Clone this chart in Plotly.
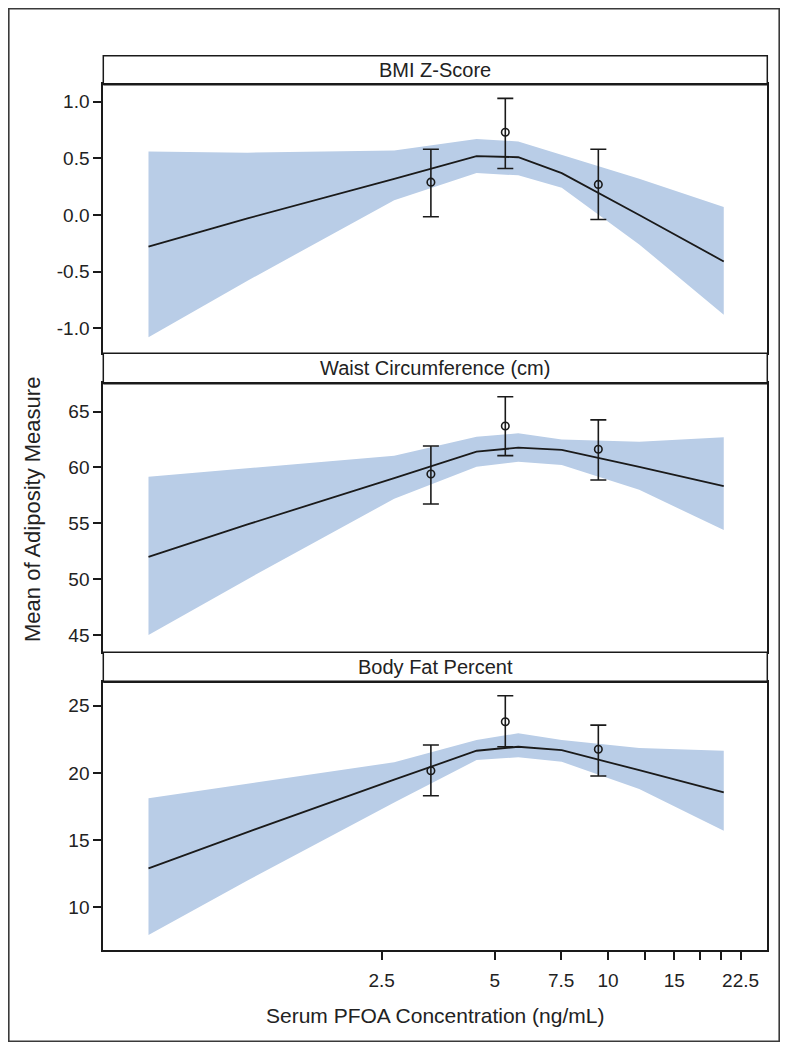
import math
import plotly.graph_objects as go

# page body has an 8px margin: figure is 772x1034 and all pixel geometry is shifted by 8
OFF = 8
W, H = 788 - 2 * OFF, 1050 - 2 * OFF

# ---- data ----
knot_x = [0.6, 1.1, 2.7, 4.47, 5.77, 7.53, 12.1, 20.3]

bmi_fit = [-0.28, -0.03, 0.32, 0.52, 0.51, 0.37, 0.00, -0.41]
bmi_upper = [0.56, 0.55, 0.57, 0.67, 0.65, 0.53, 0.32, 0.07]
bmi_lower = [-1.08, -0.58, 0.13, 0.37, 0.35, 0.24, -0.26, -0.88]

waist_fit = [52.0, 54.9, 59.05, 61.42, 61.77, 61.57, 60.05, 58.34]
waist_upper = [59.18, 59.95, 61.05, 62.76, 63.06, 62.5, 62.3, 62.7]
waist_lower = [45.0, 50.0, 57.2, 60.07, 60.52, 60.22, 58.0, 54.4]

fat_fit = [12.9, 15.6, 19.5, 21.65, 21.95, 21.7, 20.2, 18.56]
fat_upper = [18.11, 19.2, 20.8, 22.45, 22.95, 22.45, 21.85, 21.65]
fat_lower = [7.94, 12.0, 17.8, 20.96, 21.16, 20.83, 18.8, 15.7]

group_x = [3.38, 5.33, 9.42]
bmi_mean = [0.29, 0.73, 0.27]
bmi_hi = [0.58, 1.03, 0.58]
bmi_lo = [-0.015, 0.41, -0.04]
waist_mean = [59.42, 63.72, 61.63]
waist_hi = [61.93, 66.34, 64.26]
waist_lo = [56.73, 61.06, 58.88]
fat_mean = [20.16, 23.81, 21.76]
fat_hi = [22.08, 25.74, 23.56]
fat_lo = [18.30, 21.95, 19.77]

panel_titles = ["BMI Z-Score", "Waist Circumference (cm)", "Body Fat Percent"]
x_tickvals = [2.5, 5, 7.5, 10, 12.5, 15, 17.5, 20, 22.5]
x_ticktext = ["2.5", "5", "7.5", "10", "", "15", "", "", "22.5"]
y_ticks = [
    ([-1.0, -0.5, 0.0, 0.5, 1.0], ["-1.0", "-0.5", "0.0", "0.5", "1.0"]),
    ([45, 50, 55, 60, 65], ["45", "50", "55", "60", "65"]),
    ([10, 15, 20, 25], ["10", "15", "20", "25"]),
]
y_ranges = [[-1.221, 1.154], [43.5, 67.54], [6.82, 26.79]]

panels = [
    (bmi_fit, bmi_upper, bmi_lower, bmi_mean, bmi_hi, bmi_lo),
    (waist_fit, waist_upper, waist_lower, waist_mean, waist_hi, waist_lo),
    (fat_fit, fat_upper, fat_lower, fat_mean, fat_hi, fat_lo),
]

# ---- layout geometry (page pixels) ----
PX_L, PX_R = 103.3, 767.3
headers = [(55.7, 84.3), (353.3, 383.3), (652.3, 681.7)]
plots = [(84.3, 353.3), (383.3, 651.7), (681.7, 950.0)]

def fx(px):
    return (px - OFF) / W

def fy(py):
    return 1 - (py - OFF) / H

BAND = "#B9CDE7"
FONT = "Liberation Sans, Arial, sans-serif"
TXT = "#222222"
INK = "#1a1a1a"

fig = go.Figure()
shapes = []
annotations = []
layout = {}

xr = [math.log10(0.455), math.log10(26.5)]

for i, (fit, up, lo, mean, hi, lw) in enumerate(panels):
    n = i + 1
    xa = "x" if n == 1 else f"x{n}"
    ya = "y" if n == 1 else f"y{n}"
    fig.add_trace(go.Scatter(x=knot_x, y=lo, mode="lines", line=dict(width=0, color=BAND),
                             xaxis=xa, yaxis=ya, showlegend=False, hoverinfo="skip"))
    fig.add_trace(go.Scatter(x=knot_x, y=up, mode="lines", line=dict(width=0, color=BAND),
                             fill="tonexty", fillcolor=BAND,
                             xaxis=xa, yaxis=ya, showlegend=False, hoverinfo="skip"))
    fig.add_trace(go.Scatter(x=knot_x, y=fit, mode="lines", line=dict(width=1.8, color=INK),
                             xaxis=xa, yaxis=ya, showlegend=False))
    fig.add_trace(go.Scatter(
        x=group_x, y=mean, mode="markers",
        marker=dict(symbol="circle-open", size=7.5, color=INK, line=dict(width=1.6)),
        error_y=dict(type="data", symmetric=False,
                     array=[h - m for h, m in zip(hi, mean)],
                     arrayminus=[m - l for m, l in zip(mean, lw)],
                     color=INK, thickness=1.6, width=8),
        xaxis=xa, yaxis=ya, showlegend=False))

    top, bot = plots[i]
    xkey = "xaxis" if n == 1 else f"xaxis{n}"
    ykey = "yaxis" if n == 1 else f"yaxis{n}"
    last = (n == 3)
    layout[xkey] = dict(
        type="log", range=xr, domain=[fx(PX_L), fx(PX_R)], anchor=ya,
        showline=True, linewidth=2, linecolor=INK, mirror=True,
        showgrid=False, zeroline=False,
        tickmode="array", tickvals=x_tickvals if last else [],
        ticktext=x_ticktext if last else [],
        ticks="outside" if last else "", ticklen=8, tickwidth=1.5, tickcolor=INK,
        showticklabels=last, ticklabelstandoff=4,
        tickfont=dict(family=FONT, size=19, color=TXT),
        automargin=False,
    )
    tv, tt = y_ticks[i]
    layout[ykey] = dict(
        range=y_ranges[i], domain=[fy(bot), fy(top)], anchor=xa,
        showline=True, linewidth=2, linecolor=INK, mirror=True,
        showgrid=False, zeroline=False,
        tickmode="array", tickvals=tv, ticktext=tt,
        ticks="outside", ticklen=8, tickwidth=1.5, tickcolor=INK,
        tickfont=dict(family=FONT, size=19, color=TXT),
        automargin=False,
    )

    h0, h1 = headers[i]
    shapes.append(dict(type="rect", xref="paper", yref="paper",
                       x0=fx(PX_L), x1=fx(PX_R), y0=fy(h1), y1=fy(h0),
                       line=dict(color=INK, width=1.5), fillcolor="white", layer="above"))
    shapes.append(dict(type="line", xref="paper", yref="paper",
                       x0=fx(PX_L), x1=fx(PX_R), y0=fy(h1), y1=fy(h1),
                       line=dict(color=INK, width=2.5), layer="above"))
    annotations.append(dict(text=panel_titles[i], xref="paper", yref="paper",
                            x=fx((PX_L + PX_R) / 2), y=fy((h0 + h1) / 2),
                            xanchor="center", yanchor="middle", showarrow=False,
                            font=dict(family=FONT, size=20, color=TXT)))

# outer frame (as close to the page edge as the figure allows)
shapes.append(dict(type="rect", xref="paper", yref="paper",
                   x0=0.8 / W, x1=1 - 0.8 / W, y0=0.8 / H, y1=1 - 0.8 / H,
                   line=dict(color="#3a3a3a", width=1.6), layer="above"))

annotations.append(dict(text="Serum PFOA Concentration (ng/mL)", xref="paper", yref="paper",
                        x=fx((PX_L + PX_R) / 2), y=fy(1015), xanchor="center", yanchor="middle",
                        showarrow=False, font=dict(family=FONT, size=21, color=TXT)))
annotations.append(dict(text="Mean of Adiposity Measure", xref="paper", yref="paper",
                        x=fx(32), y=fy(510), xanchor="center", yanchor="middle", textangle=-90,
                        showarrow=False, font=dict(family=FONT, size=22, color=TXT)))

fig.update_layout(
    width=W, height=H,
    margin=dict(l=0, r=0, t=0, b=0, pad=0),
    paper_bgcolor="white", plot_bgcolor="white",
    shapes=shapes, annotations=annotations,
    showlegend=False,
    **layout,
)

fig.write_html("out.html")
